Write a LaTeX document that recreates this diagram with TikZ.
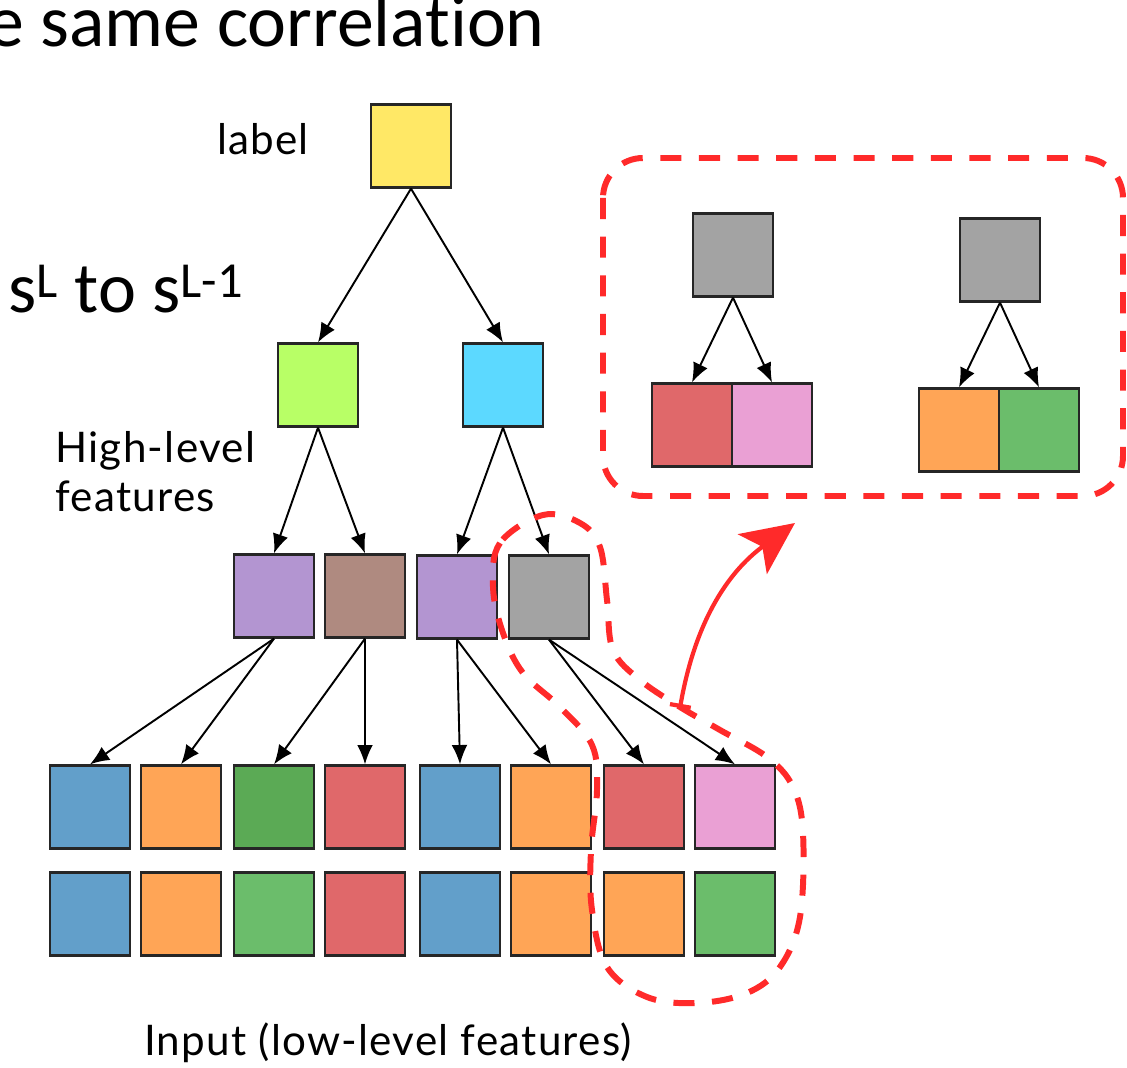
\documentclass[tikz,border=0pt]{standalone}
\usepackage{fontspec}
\setmainfont{Lato}[LetterSpace=3]
\newfontfamily\calfont{Carlito}[Ligatures=NoCommon]
\usetikzlibrary{positioning,arrows.meta}

\definecolor{cyellow}{HTML}{FFE866}
\definecolor{clime}{HTML}{B8FF66}
\definecolor{ccyan}{HTML}{5CD9FF}
\definecolor{cpurple}{HTML}{B395D1}
\definecolor{cbrown}{HTML}{AF8A80}
\definecolor{cgray}{HTML}{A3A3A3}
\definecolor{cblue}{HTML}{629FCA}
\definecolor{corange}{HTML}{FFA556}
\definecolor{cgreenD}{HTML}{5BAA55}
\definecolor{cgreen}{HTML}{6BBD6B}
\definecolor{cred}{HTML}{E0686A}
\definecolor{cpink}{HTML}{EAA0D4}
\definecolor{cmark}{HTML}{FF2A2A}

\begin{document}
\begin{tikzpicture}[x=0.02cm,y=-0.02cm,
	box/.style = {draw=black!85,line width=1.3pt,inner sep=0pt,minimum width=1.6cm,minimum height=1.66cm},
	link/.style = {draw,line width=1.1pt,-{Latex[length=11pt,width=9pt]}},
	marker/.style = {draw=cmark,line width=3.4pt,dash pattern=on 12pt off 10pt},
	txt/.style = {font=\fontsize{24}{28}\selectfont}]
	\useasboundingbox (0,0) rectangle (1127,1068);
	% headings
	\node (title) at (545,47) [anchor=base east,font=\calfont\fontsize{42}{50}\selectfont,inner sep=0pt] {e same correlation};
	\node (sl) at (8,313) [anchor=base west,font=\calfont\fontsize{41}{50}\selectfont,inner sep=0pt] {s\textsuperscript{L} to s\textsuperscript{L-1}};
	% tree
	\node (lab) at (411,146) [box,fill=cyellow] {};
	\node (labtxt) at (263,155) [txt,anchor=base] {label};
	\node (hA) at (318,385) [box,fill=clime] {};
	\node (hB) at (503,385) [box,fill=ccyan] {};
	\draw [link] (lab.south) -- (hA.north);
	\draw [link] (lab.south) -- (hB.north);
	\node (hightxt) at (55,472) [txt,anchor=west,align=left,inner sep=0pt] {High-level\\features};
	\node (m1) at (274,596) [box,fill=cpurple] {};
	\node (m2) at (365,596) [box,fill=cbrown] {};
	\node (m3) at (457,597) [box,fill=cpurple] {};
	\node (m4) at (549,597) [box,fill=cgray] {};
	\draw [link] (hA.south) -- (m1.north);
	\draw [link] (hA.south) -- (m2.north);
	\draw [link] (hB.south) -- (m3.north);
	\draw [link] (hB.south) -- (m4.north);
	% input rows
	\foreach \x/\c [count=\i] in {90/cblue,181/corange,274/cgreenD,365/cred,460/cblue,551/corange,644/cred,735/cpink}
		\node (i\i) at (\x,807) [box,fill=\c] {};
	\foreach \x/\c [count=\i] in {90/cblue,181/corange,274/cgreen,365/cred,460/cblue,551/corange,644/corange,735/cgreen}
		\node (j\i) at (\x,914) [box,fill=\c] {};
	\draw [link] (m1.south) -- (i1.north);
	\draw [link] (m1.south) -- (i2.north);
	\draw [link] (m2.south) -- (i3.north);
	\draw [link] (m2.south) -- (i4.north);
	\draw [link] (m3.south) -- (i5.north);
	\draw [link] (m3.south) -- (i6.north);
	\draw [link] (m4.south) -- (i7.north);
	\draw [link] (m4.south) -- (i8.north);
	\node (inputtxt) at (388,1055) [txt,anchor=base] {Input (low-level features)};
	% selection around the gray feature
	\draw [marker] plot[smooth cycle,tension=0.6] coordinates {(543,515) (500,543) (493,587) (503,633) (523,673) (560,707) (592,745) (597,790) (591,850) (592,910) (607,967) (647,997) (697,1003) (747,993) (780,967) (800,917) (803,833) (793,787) (767,757) (720,730) (680,707) (640,680) (613,650) (607,600) (600,547) (580,523)};
	% zoomed inset
	\draw [marker,rounded corners=0.8cm] (603,158) rectangle (1123,496);
	\node (g1) at (733,255) [box,fill=cgray] {};
	\node (g2) at (1000,260) [box,fill=cgray] {};
	\node (p1) at (692,425) [box,fill=cred] {};
	\node (p2) at (772,425) [box,fill=cpink] {};
	\node (p3) at (959,430) [box,fill=corange] {};
	\node (p4) at (1039,430) [box,fill=cgreen] {};
	\draw [link] (g1.south) -- (p1.north);
	\draw [link] (g1.south) -- (p2.north);
	\draw [link] (g2.south) -- (p3.north);
	\draw [link] (g2.south) -- (p4.north);
	% pointer
	\coordinate (cs) at (680,708);
	\coordinate (ce) at (795,523);
	\draw [draw=cmark,line width=2.4pt,{Bar[width=12pt]}-{Stealth[length=30pt,width=28pt,inset=7pt]}] (cs) to[bend left=22] (ce);
\end{tikzpicture}
\end{document}
